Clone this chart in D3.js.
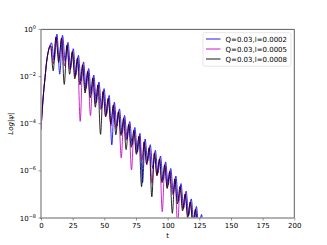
<!DOCTYPE html>
<html>
<head>
<meta charset="utf-8">
<script src="https://cdn.jsdelivr.net/npm/d3@7"></script>
<style>
  body { margin: 0; background: #fff; }
  text { font-family: "DejaVu Sans", sans-serif; fill: #000; }
</style>
</head>
<body>
<div id="chart"></div>
<script>
// data: [t, log10 |psi|]
const risePoints = [[0,-4.25],[1,-3.4],[2,-2.7],[3.2,-2.04],[4.5,-1.35],[5.6,-0.98],[6.6,-0.76]];

const blueSeries = [
  [8.3,-0.57],[10.45,-1.3],[12.6,-0.2],[14.8,-1.9],[17.0,-0.25],[19.15,-1.35],[21.3,-0.55],[23.4,-1.65],
  [25.5,-0.82],[27.5,-1.95],[29.55,-1.1],[31.6,-2.2],[33.6,-1.38],[35.6,-2.5],[37.65,-1.66],[39.7,-2.75],
  [41.7,-1.94],[43.7,-3.1],[45.75,-2.23],[47.8,-3.35],[49.8,-2.51],[51.8,-3.6],[53.85,-2.8],[55.9,-4.9],
  [57.9,-3.09],[59.9,-4.1],[61.95,-3.37],[64.0,-4.4],[66.0,-3.65],[68.0,-4.65],[70.05,-3.91],[72.1,-4.9],
  [74.1,-4.16],[76.1,-5.2],[78.15,-4.41],[80.2,-6.5],[82.2,-4.65],[84.2,-5.6],[86.25,-4.89],[88.3,-5.9],
  [90.3,-5.13],[92.3,-6.1],[94.35,-5.37],[96.4,-6.4],[98.4,-5.62],[100.4,-6.6],[102.45,-5.9],[104.5,-6.95],
  [106.5,-6.22],[108.5,-7.3],[110.55,-6.54],[112.6,-7.6],[114.6,-6.86],[116.6,-7.9],[118.65,-7.19],[120.7,-8.3],
  [122.7,-7.51],[124.7,-8.5],[126.75,-7.85],[128,-8.6]
];

const magentaSeries = [
  [7.65,-0.67],[9.8,-1.45],[11.95,-0.3],[14.15,-1.25],[16.35,-0.35],[18.5,-1.55],[20.65,-0.65],[22.75,-1.7],
  [24.85,-0.92],[26.85,-2.0],[28.9,-1.2],[30.95,-3.9],[32.95,-1.48],[34.95,-2.6],[37.0,-1.76],[39.05,-3.65],
  [41.05,-2.04],[43.05,-3.15],[45.1,-2.33],[47.15,-3.4],[49.15,-2.61],[51.15,-3.7],[53.2,-2.9],[55.25,-4.1],
  [57.25,-3.19],[59.25,-4.2],[61.3,-3.47],[63.35,-5.45],[65.35,-3.75],[67.35,-4.7],[69.4,-4.01],[71.45,-5.96],
  [73.45,-4.26],[75.45,-5.25],[77.5,-4.51],[79.55,-5.55],[81.55,-4.75],[83.55,-5.75],[85.6,-4.99],[87.65,-6.52],
  [89.65,-5.23],[91.65,-6.2],[93.7,-5.47],[95.75,-7.73],[97.75,-5.72],[99.75,-6.7],[101.8,-6.0],[103.85,-7.0],
  [105.85,-6.32],[107.85,-8.3],[109.9,-6.64],[111.95,-7.6],[113.95,-6.96],[115.95,-7.9],[118.0,-7.29],[120.05,-8.3],
  [122.05,-7.61],[124.05,-8.6],[126.1,-7.95],[127.3,-8.6]
];

const blackSeries = [
  [7.5,-0.7],[9.65,-1.76],[11.8,-0.33],[14.0,-1.4],[16.2,-0.38],[18.35,-2.33],[20.5,-0.68],[22.6,-1.9],
  [24.7,-0.95],[26.7,-2.1],[28.75,-1.23],[30.8,-2.35],[32.8,-1.51],[34.8,-2.7],[36.85,-1.79],[38.9,-2.9],
  [40.9,-2.07],[42.9,-3.3],[44.95,-2.36],[47.0,-4.45],[49.0,-2.64],[51.0,-3.7],[53.05,-2.93],[55.1,-4.0],
  [57.1,-3.22],[59.1,-4.47],[61.15,-3.5],[63.2,-4.5],[65.2,-3.78],[67.2,-5.1],[69.25,-4.04],[71.3,-5.0],
  [73.3,-4.29],[75.3,-5.3],[77.35,-4.54],[79.4,-6.67],[81.4,-4.78],[83.4,-5.7],[85.45,-5.02],[87.5,-7.1],
  [89.5,-5.26],[91.5,-6.2],[93.55,-5.5],[95.6,-6.5],[97.6,-5.75],[99.6,-6.75],[101.65,-6.03],[103.7,-7.8],
  [105.7,-6.35],[107.7,-7.4],[109.75,-6.67],[111.8,-7.7],[113.8,-6.99],[115.8,-8.0],[117.85,-7.32],[119.9,-8.3],
  [121.9,-7.64],[123.9,-8.6],[125.95,-7.98],[127.2,-8.6]
];

const seriesNames = ["Q=0.03,l=0.0002", "Q=0.03,l=0.0005", "Q=0.03,l=0.0008"];
const seriesColors = ["#0000ff", "#bf00bf", "#000000"];
const xTicks = [0, 25, 50, 75, 100, 125, 150, 175, 200];
const yTickExps = [0, -2, -4, -6, -8];

// layout
const W = 327, H = 245;
const plot = { left: 41, right: 294.3, top: 29.4, bottom: 218 };

const svg = d3.select("#chart").append("svg")
    .attr("width", W).attr("height", H);

const x = d3.scaleLinear().domain([0, 200]).range([plot.left, plot.right]);
const y = d3.scaleLog().domain([1e-8, 1]).range([plot.bottom, plot.top]);

svg.append("clipPath").attr("id", "clip")
    .append("rect")
    .attr("x", plot.left).attr("y", plot.top)
    .attr("width", plot.right - plot.left).attr("height", plot.bottom - plot.top);

// lines
const line = d3.line()
    .x(d => x(d[0]))
    .y(d => y(Math.pow(10, d[1])))
    .curve(d3.curveMonotoneX);

const allSeries = [blueSeries, magentaSeries, blackSeries];
const lines = svg.append("g").attr("clip-path", "url(#clip)");
allSeries.forEach((s, i) => {
    lines.append("path")
        .datum(risePoints.concat(s))
        .attr("fill", "none")
        .attr("stroke", seriesColors[i])
        .attr("stroke-width", 0.85)
        .attr("stroke-linejoin", "round")
        .attr("d", line);
});

// spines
svg.append("line").attr("x1", plot.left).attr("x2", plot.right).attr("y1", plot.top).attr("y2", plot.top)
    .attr("stroke", "#333").attr("stroke-width", 0.8);
svg.append("line").attr("x1", plot.right).attr("x2", plot.right).attr("y1", plot.top).attr("y2", plot.bottom)
    .attr("stroke", "#333").attr("stroke-width", 0.8);
svg.append("line").attr("x1", plot.left).attr("x2", plot.left).attr("y1", plot.top).attr("y2", plot.bottom + 0.7)
    .attr("stroke", "#999").attr("stroke-width", 1.5);
svg.append("line").attr("x1", plot.left - 0.7).attr("x2", plot.right).attr("y1", plot.bottom).attr("y2", plot.bottom)
    .attr("stroke", "#999").attr("stroke-width", 1.5);

// x axis
const xAxis = svg.append("g").attr("transform", `translate(0,${plot.bottom})`)
    .call(d3.axisBottom(x).tickValues(xTicks).tickSize(2.5).tickPadding(2.5));
xAxis.select(".domain").remove();
xAxis.selectAll(".tick line").attr("stroke", "#555").attr("stroke-width", 0.6);
xAxis.selectAll(".tick text").style("font-size", "7px").attr("fill", "#000");

// y axis
const yAxis = svg.append("g");
yTickExps.forEach(e => {
    const yy = y(Math.pow(10, e));
    yAxis.append("line").attr("x1", plot.left - 2.5).attr("x2", plot.left)
        .attr("y1", yy).attr("y2", yy).attr("stroke", "#555").attr("stroke-width", 0.6);
    const t = yAxis.append("text")
        .attr("x", plot.left - 5).attr("y", yy + 2.5)
        .attr("text-anchor", "end").style("font-size", "7px");
    t.append("tspan").text("10");
    t.append("tspan").attr("dy", -3).style("font-size", "5px")
        .text(e === 0 ? "0" : "\u2212" + Math.abs(e));
});

// axis labels
svg.append("text").attr("x", (plot.left + plot.right) / 2).attr("y", 238)
    .attr("text-anchor", "middle").style("font-size", "7px").text("t");
svg.append("text")
    .attr("transform", `translate(13,${(plot.top + plot.bottom) / 2}) rotate(-90)`)
    .attr("text-anchor", "middle").style("font-size", "7px").style("font-style", "italic")
    .text("Log|\u03c8|");

// legend
const lg = svg.append("g").attr("transform", "translate(203,32.7)");
lg.append("rect").attr("width", 88).attr("height", 33.5).attr("rx", 1.5)
    .attr("fill", "#fff").attr("fill-opacity", 0.8)
    .attr("stroke", "#d5d5d5").attr("stroke-width", 0.6);
seriesNames.forEach((name, i) => {
    const row = lg.append("g").attr("transform", `translate(0,${6.3 + i * 10})`);
    row.append("line").attr("x1", 3).attr("x2", 17.5).attr("y1", 0).attr("y2", 0)
        .attr("stroke", seriesColors[i]).attr("stroke-width", 0.9);
    row.append("text").attr("x", 22.5).attr("y", 2.5).style("font-size", "7px").text(name);
});
</script>
</body>
</html>
